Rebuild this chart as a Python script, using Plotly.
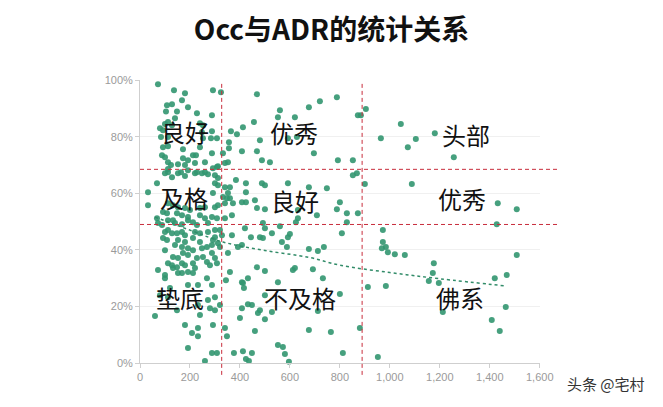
import plotly.graph_objects as go

# ---------------- data ----------------
ADR = [
    72, 136, 180, 292, 168, 108, 128, 192, 104, 148, 228, 288, 140, 112, 100, 240, 252, 128, 80, 92,
    248, 288, 84, 112, 252, 284, 308, 92, 112, 240, 172, 288, 332, 88, 100, 212, 224, 172, 192, 112,
    124, 260, 220, 152, 180, 292, 312, 340, 112, 112, 164, 192, 228, 260, 100, 128, 152, 180, 220, 248,
    272, 300, 68, 300, 312, 340, 32, 292, 332, 32, 112, 132, 152, 180, 200, 240, 260, 300, 312, 92,
    108, 148, 168, 192, 240, 260, 288, 308, 340, 68, 112, 132, 192, 212, 72, 88, 140, 168, 228, 272,
    100, 112, 128, 148, 168, 180, 220, 240, 272, 300, 320, 328, 300, 292, 92, 108, 152, 180, 212, 240,
    140, 168, 192, 212, 248, 268, 288, 312, 320, 100, 172, 192, 132, 152, 228, 252, 288, 300, 112, 128,
    168, 180, 212, 268, 280, 308, 132, 148, 72, 100, 152, 168, 192, 220, 212, 232, 268, 288, 120, 192,
    80, 112, 272, 300, 280, 300, 232, 148, 60, 180, 232, 208, 232, 292, 320, 340, 348, 192, 288, 260,
    344, 240, 100,
    324, 468, 788, 720, 676, 560, 552, 620, 456, 412, 364, 388, 480, 628, 592, 356, 356, 408, 468, 696,
    488, 520, 792, 852, 352, 308, 868, 852, 312, 900, 384, 424, 488, 500, 592, 676, 748, 360, 352, 360,
    372, 424, 424, 408, 460, 348, 340, 800, 468, 500, 828, 872, 788, 708, 632, 368, 420, 492, 500, 560,
    632, 624, 480, 492, 444, 368, 600, 592, 528, 568, 588, 808, 828, 676, 712, 736, 392, 408, 352, 468,
    500, 612, 620, 692, 360, 408, 412, 432, 552, 732, 416, 800, 500, 432, 448, 408, 480, 472, 528, 712,
    500, 400, 460, 676, 764, 880, 552, 572, 580, 596, 412, 448, 376, 424, 436, 812, 952, 308,
    904, 872, 884, 1044, 964, 1104, 1072, 1180, 1256, 1088, 1432, 1508, 1428, 972, 972, 984, 968, 992, 1020, 1060,
    1508, 1176, 1172, 1156, 1196, 1420, 1468, 912, 984, 1212, 1464, 1408, 1440,
]
OCC = [
    98.6, 96.5, 95.4, 96.5, 92.9, 91.2, 91.5, 90.5, 89.0, 89.0, 88.3, 87.6, 86.6, 85.2, 84.5, 84.8, 84.1, 84.1, 83.0, 82.3,
    81.6, 82.0, 79.9, 79.9, 79.5, 79.5, 79.5, 76.3, 76.7, 76.3, 75.6, 74.2, 74.2, 73.5, 72.8, 73.5, 73.5, 72.4, 71.7, 71.0,
    70.0, 71.0, 70.7, 70.3, 70.0, 68.9, 69.6, 70.7, 68.6, 67.5, 67.5, 68.2, 67.5, 67.5, 67.1, 65.7, 67.1, 66.1, 67.1, 67.1,
    66.8, 66.4, 63.6, 63.6, 62.9, 62.2, 60.4, 60.1, 58.7, 55.8, 56.5, 55.8, 55.1, 54.8, 54.1, 54.8, 55.1, 55.1, 55.8, 53.4,
    53.0, 53.0, 52.3, 51.6, 52.3, 51.2, 51.6, 51.2, 51.2, 51.2, 50.5, 50.5, 50.5, 49.8, 49.5, 48.8, 49.5, 49.1, 48.8, 49.5,
    46.3, 47.0, 45.9, 45.9, 46.3, 45.2, 46.3, 45.9, 46.3, 47.0, 47.0, 45.2, 44.5, 43.5, 44.2, 43.5, 43.5, 42.8, 44.2, 42.8,
    41.7, 41.0, 40.6, 39.9, 40.6, 41.0, 41.7, 42.4, 41.0, 39.9, 38.9, 38.2, 37.5, 37.1, 37.1, 37.5, 38.9, 37.1, 35.3, 34.6,
    35.3, 34.6, 35.3, 35.7, 34.6, 35.3, 33.6, 33.9, 32.9, 31.1, 31.8, 31.8, 32.2, 33.6, 31.8, 27.6, 30.0, 27.6, 26.5, 27.6,
    24.0, 23.3, 22.3, 23.3, 19.4, 18.7, 20.5, 18.7, 16.6, 13.4, 12.4, 10.6, 9.5, 13.4, 20.5, 12.4, 9.5, 5.3, 3.5, 0.7,
    29.3, 17.0, 30.0,
    95.8, 95.1, 94.0, 92.6, 90.5, 89.4, 86.9, 86.9, 85.2, 83.4, 82.0, 80.9, 78.8, 79.9, 79.5, 78.1, 76.0, 74.9, 74.9, 74.2,
    71.7, 71.0, 71.7, 71.7, 71.0, 69.3, 67.1, 66.4, 65.4, 63.3, 64.7, 63.6, 63.6, 62.9, 63.6, 62.2, 61.8, 62.2, 60.1, 58.3,
    56.5, 60.4, 56.9, 56.9, 57.6, 58.3, 56.5, 56.9, 54.8, 54.4, 53.0, 53.0, 54.4, 52.3, 54.1, 52.3, 47.7, 49.5, 47.7, 48.4,
    51.2, 49.8, 44.5, 44.2, 44.5, 45.2, 45.6, 44.5, 45.9, 42.8, 41.0, 45.9, 49.8, 40.3, 39.6, 41.0, 41.0, 41.7, 38.9, 33.9,
    32.5, 32.9, 33.6, 33.2, 32.2, 28.6, 28.3, 30.0, 28.6, 30.0, 26.5, 24.4, 24.0, 20.8, 20.5, 19.4, 18.7, 17.7, 18.0, 18.4,
    15.5, 15.9, 11.3, 11.7, 11.0, 12.4, 6.4, 5.7, 3.2, 0.4, 4.2, 3.5, 3.5, 1.4, 0.7, 3.5, 2.1, 3.5,
    89.8, 87.6, 87.6, 84.5, 79.5, 79.2, 76.3, 81.3, 72.8, 63.3, 56.5, 54.4, 49.1, 47.0, 42.8, 41.0, 40.6, 39.2, 38.5, 38.2,
    38.2, 35.3, 31.8, 29.0, 28.3, 30.0, 31.1, 26.9, 27.2, 18.0, 19.8, 15.2, 11.3,
]

TREND_ADR = [60, 200, 332, 500, 680, 800, 1000, 1200, 1468]
TREND_OCC = [51.6, 47.0, 42.8, 39.8, 37.3, 34.6, 32.0, 29.8, 27.2]

CUT_ADR = [327, 889]
CUT_OCC = [49.0, 68.5]

REGION_NAMES = ["良好", "优秀", "头部", "及格", "良好", "优秀", "垫底", "不及格", "佛系"]
REGION_ADR = [180, 616, 1304, 176, 620, 1288, 160, 640, 1280]
REGION_OCC = [82.0, 81.6, 80.9, 58.7, 57.6, 58.3, 23.0, 23.0, 23.0]

X_TICKS = [0, 200, 400, 600, 800, 1000, 1200, 1400, 1600]
X_TICK_TEXT = ["0", "200", "400", "600", "800", "1,000", "1,200", "1,400", "1,600"]
Y_TICKS = [0, 20, 40, 60, 80, 100]
Y_TICK_TEXT = ["0%", "20%", "40%", "60%", "80%", "100%"]

TITLE = "Occ与ADR的统计关系"
SOURCE = "头条 @宅村"

# ---------------- figure ----------------
W, H = 663, 407
L, R, T, B = 140, 123, 80, 44

fig = go.Figure()

fig.add_trace(go.Scatter(
    x=ADR, y=OCC, mode="markers",
    marker=dict(size=6, color="rgb(50,150,112)", opacity=0.9, line=dict(width=0)),
    cliponaxis=False, hoverinfo="skip", showlegend=False,
))

fig.add_trace(go.Scatter(
    x=TREND_ADR, y=TREND_OCC, mode="lines", line_shape="spline",
    line=dict(color="rgb(50,140,105)", width=1.5, dash="dot"),
    hoverinfo="skip", showlegend=False,
))

red = "rgb(200,45,60)"
for xv in CUT_ADR:
    fig.add_shape(type="line", xref="x", yref="paper", x0=xv, x1=xv, y0=-0.042, y1=0.99,
                  line=dict(color=red, width=1, dash="4px,3px"))
for yv in CUT_OCC:
    fig.add_shape(type="line", xref="paper", yref="y", x0=0.0, x1=1.045, y0=yv, y1=yv,
                  line=dict(color=red, width=1, dash="4px,3px"))

for name, xv, yv in zip(REGION_NAMES, REGION_ADR, REGION_OCC):
    fig.add_annotation(x=xv, y=yv, xref="x", yref="y", text=name, showarrow=False,
                       xanchor="center", yanchor="middle",
                       font=dict(family="Noto Sans CJK SC", size=24, color="#111"))

fig.add_annotation(x=1.165, y=-0.074, xref="paper", yref="paper", text=SOURCE, showarrow=False,
                   xanchor="center", yanchor="middle",
                   font=dict(family="Noto Sans CJK SC", size=15, color="#333"))

axis_font = dict(family="Liberation Sans, Arial", size=11, color="#9a9a9a")
fig.update_layout(
    width=W, height=H,
    margin=dict(l=L, r=R, t=T, b=B, pad=0),
    paper_bgcolor="white", plot_bgcolor="white",
    title=dict(text="<b>" + TITLE + "</b>", x=0.5, xref="container", xanchor="center",
               y=1 - 30 / H, yref="container", yanchor="middle",
               font=dict(family="Noto Sans CJK SC", size=28, color="#111")),
    xaxis=dict(range=[0, 1601], tickvals=X_TICKS, ticktext=X_TICK_TEXT, showgrid=False, zeroline=False,
               showline=True, linecolor="#cfcfcf", linewidth=1, ticks="outside", ticklen=4,
               tickcolor="#cfcfcf", tickfont=axis_font, fixedrange=True),
    yaxis=dict(range=[0, 100.1], tickvals=Y_TICKS, ticktext=Y_TICK_TEXT, showgrid=True, gridcolor="#f0f0f0",
               zeroline=False, showline=True, linecolor="#cfcfcf", linewidth=1, ticks="outside",
               ticklen=4, tickcolor="#cfcfcf", tickfont=axis_font, fixedrange=True),
)

fig.write_html("out.html")
